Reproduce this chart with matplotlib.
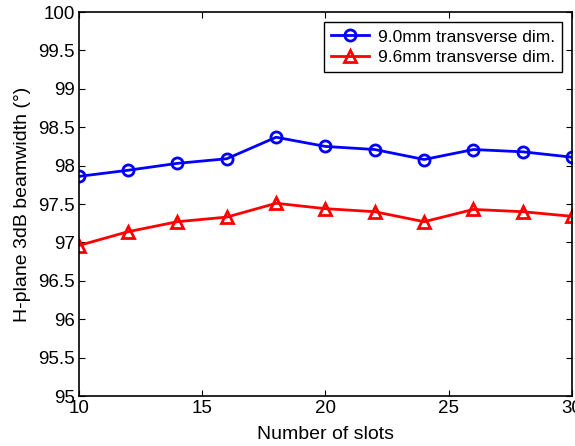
import numpy as np
import matplotlib
matplotlib.use('Agg')
import matplotlib.pyplot as plt

# data
slots = [10, 12, 14, 16, 18, 20, 22, 24, 26, 28, 30]
bw_90 = [97.86, 97.94, 98.03, 98.09, 98.37, 98.25, 98.21, 98.08, 98.21, 98.18, 98.11]
bw_96 = [96.96, 97.14, 97.27, 97.33, 97.51, 97.44, 97.40, 97.27, 97.43, 97.40, 97.34]
labels = ['9.0mm transverse dim.', '9.6mm transverse dim.']

plt.rcParams['font.family'] = ['Liberation Sans', 'DejaVu Sans']

fig = plt.figure(figsize=(5.75, 4.46), dpi=100)
ax = fig.add_axes([0.137, 0.112, 0.858, 0.861])

ax.plot(slots, bw_90, color='blue', lw=2, marker='o', ms=8, mfc='none', mew=2, label=labels[0])
ax.plot(slots, bw_96, color='red', lw=2, marker='^', ms=9, mfc='none', mew=2, label=labels[1])

ax.set_xlim(10, 30)
ax.set_ylim(95, 100)
ax.set_xticks([10, 15, 20, 25, 30])
ax.set_yticks(np.arange(95, 100.01, 0.5))
ax.set_yticklabels(['95', '95.5', '96', '96.5', '97', '97.5', '98', '98.5', '99', '99.5', '100'])
ax.tick_params(direction='in', top=True, right=True, labelsize=13.5, length=4, pad=3)
for s in ax.spines.values():
    s.set_linewidth(1.2)

ax.set_xlabel('Number of slots', fontsize=14, labelpad=6)
ax.set_ylabel('H-plane 3dB beamwidth (°)', fontsize=14, labelpad=5)

leg = ax.legend(loc='upper right', fontsize=12.5, fancybox=False, edgecolor='black',
                framealpha=1, handlelength=2.2, borderaxespad=0.6,
                borderpad=0.4, labelspacing=0.3, handletextpad=0.5)
leg.get_frame().set_linewidth(1.0)

plt.savefig('out.png', dpi=100)
